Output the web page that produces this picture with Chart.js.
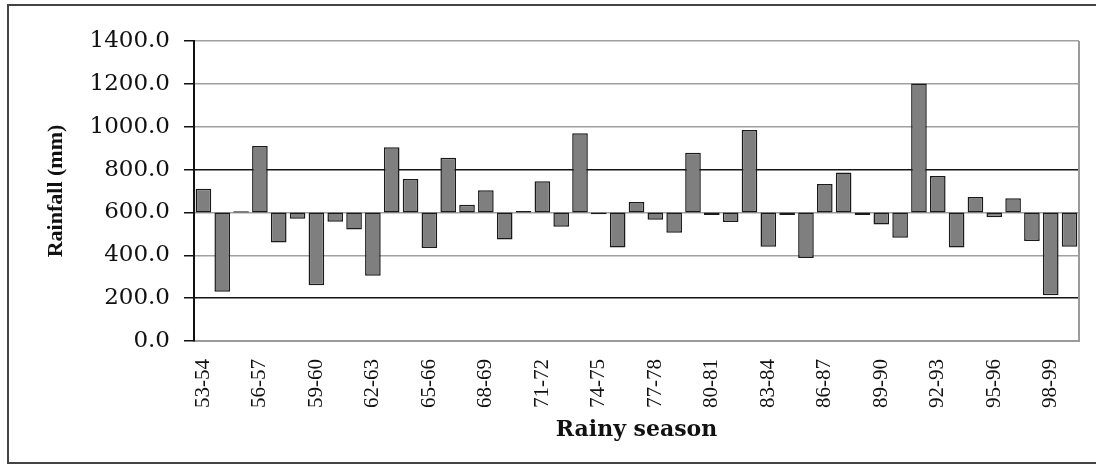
<!DOCTYPE html>
<html>
<head>
<meta charset="utf-8">
<script src="https://cdn.jsdelivr.net/npm/chart.js@4.4.1/dist/chart.umd.min.js"></script>
<style>
    html, body { margin: 0; padding: 0; background: #fff; overflow: hidden; }
    #wrap { position: relative; width: 1096px; height: 466px; }
    #frame {
        position: absolute; left: 7px; top: 4px; width: 1200px; height: 456px;
        border: 2px solid #444; border-right: none; pointer-events: none;
    }
</style>
</head>
<body>
<div id="wrap">
    <canvas id="rainChart" width="1096" height="466"></canvas>
    <div id="frame"></div>
</div>
<script>
// Rainy seasons 1953-54 .. 1999-00
const seasons = [
    '53-54', '54-55', '55-56', '56-57', '57-58', '58-59', '59-60', '60-61', '61-62', '62-63',
    '63-64', '64-65', '65-66', '66-67', '67-68', '68-69', '69-70', '70-71', '71-72', '72-73',
    '73-74', '74-75', '75-76', '76-77', '77-78', '78-79', '79-80', '80-81', '81-82', '82-83',
    '83-84', '84-85', '85-86', '86-87', '87-88', '88-89', '89-90', '90-91', '91-92', '92-93',
    '93-94', '94-95', '95-96', '96-97', '97-98', '98-99', '99-00'
];

// Seasonal rainfall (mm)
const rainfall = [
    710, 230, 605, 910, 460, 570, 260, 557, 520, 305,
    904, 756, 434, 855, 636, 703, 474, 607, 746, 533,
    970, 591, 436, 649, 566, 505, 879, 588, 555, 985,
    440, 588, 387, 733, 786, 588, 544, 482, 1202, 770,
    436, 672, 577, 666, 467, 213, 440
];

// bars hang from the long-term mean line
const baseline = 600;

const yTicks = [0, 200, 400, 600, 800, 1000, 1200, 1400];

const serif = '"Liberation Serif", "Times New Roman", serif';
const wideSerif = '"DejaVu Serif", serif'; // horizontal text in the figure is stretched

// gray border on the right side of the plot area
const plotBorder = {
    id: 'plotBorder',
    afterDraw(chart) {
        const { ctx, chartArea } = chart;
        ctx.save();
        ctx.strokeStyle = '#9a9a9a';
        ctx.lineWidth = 2;
        ctx.beginPath();
        ctx.moveTo(chartArea.right, chartArea.top);
        ctx.lineTo(chartArea.right, chartArea.bottom);
        ctx.stroke();
        ctx.restore();
    }
};

new Chart(document.getElementById('rainChart'), {
    type: 'bar',
    data: {
        labels: seasons,
        datasets: [{
            data: rainfall.map(v => [baseline, v]),
            backgroundColor: '#7f7f7f',
            borderColor: '#1a1a1a',
            borderWidth: 1.5,
            borderSkipped: false,
            barPercentage: 0.83,
            categoryPercentage: 1.0,
        }]
    },
    options: {
        responsive: false,
        animation: false,
        devicePixelRatio: 1,
        layout: { padding: { left: 0, top: 41, right: 17, bottom: 0 } },
        plugins: {
            legend: { display: false },
            tooltip: { enabled: false },
        },
        scales: {
            x: {
                afterFit: s => { s.height = 125; s.paddingLeft = 0; s.paddingRight = 0; },
                grid: { display: false, drawTicks: false, tickLength: 0 },
                border: { display: true, color: '#9a9a9a', width: 2 },
                ticks: {
                    autoSkip: false,
                    minRotation: 90,
                    maxRotation: 90,
                    padding: 18,
                    color: '#111',
                    font: { family: serif, size: 21 },
                    callback: function(val, i) { return i % 3 === 0 ? seasons[i] : ''; }
                },
                title: {
                    display: true,
                    text: 'Rainy season',
                    color: '#111',
                    font: { family: wideSerif, size: 22, weight: 'bold' },
                    padding: { top: 0, bottom: 23 }
                }
            },
            y: {
                min: 0,
                max: 1400,
                afterFit: s => { s.width = 194; },
                afterBuildTicks: s => { s.ticks = yTicks.map(v => ({ value: v })); },
                grid: {
                    color: ctx => (ctx.tick && (ctx.tick.value === 800 || ctx.tick.value === 200)) ? '#151515' : '#a0a0a0',
                    lineWidth: 1.5,
                    tickColor: '#111',
                    tickLength: 10,
                },
                border: { display: true, color: '#111', width: 2 },
                ticks: {
                    padding: 14,
                    color: '#111',
                    font: { family: wideSerif, size: 23 },
                    callback: v => v.toFixed(1)
                },
                title: {
                    display: true,
                    text: 'Rainfall (mm)',
                    color: '#111',
                    font: { family: serif, size: 22, weight: 'bold' },
                    padding: { top: 43, bottom: 0 }
                }
            }
        }
    },
    plugins: [plotBorder]
});
</script>
</body>
</html>
